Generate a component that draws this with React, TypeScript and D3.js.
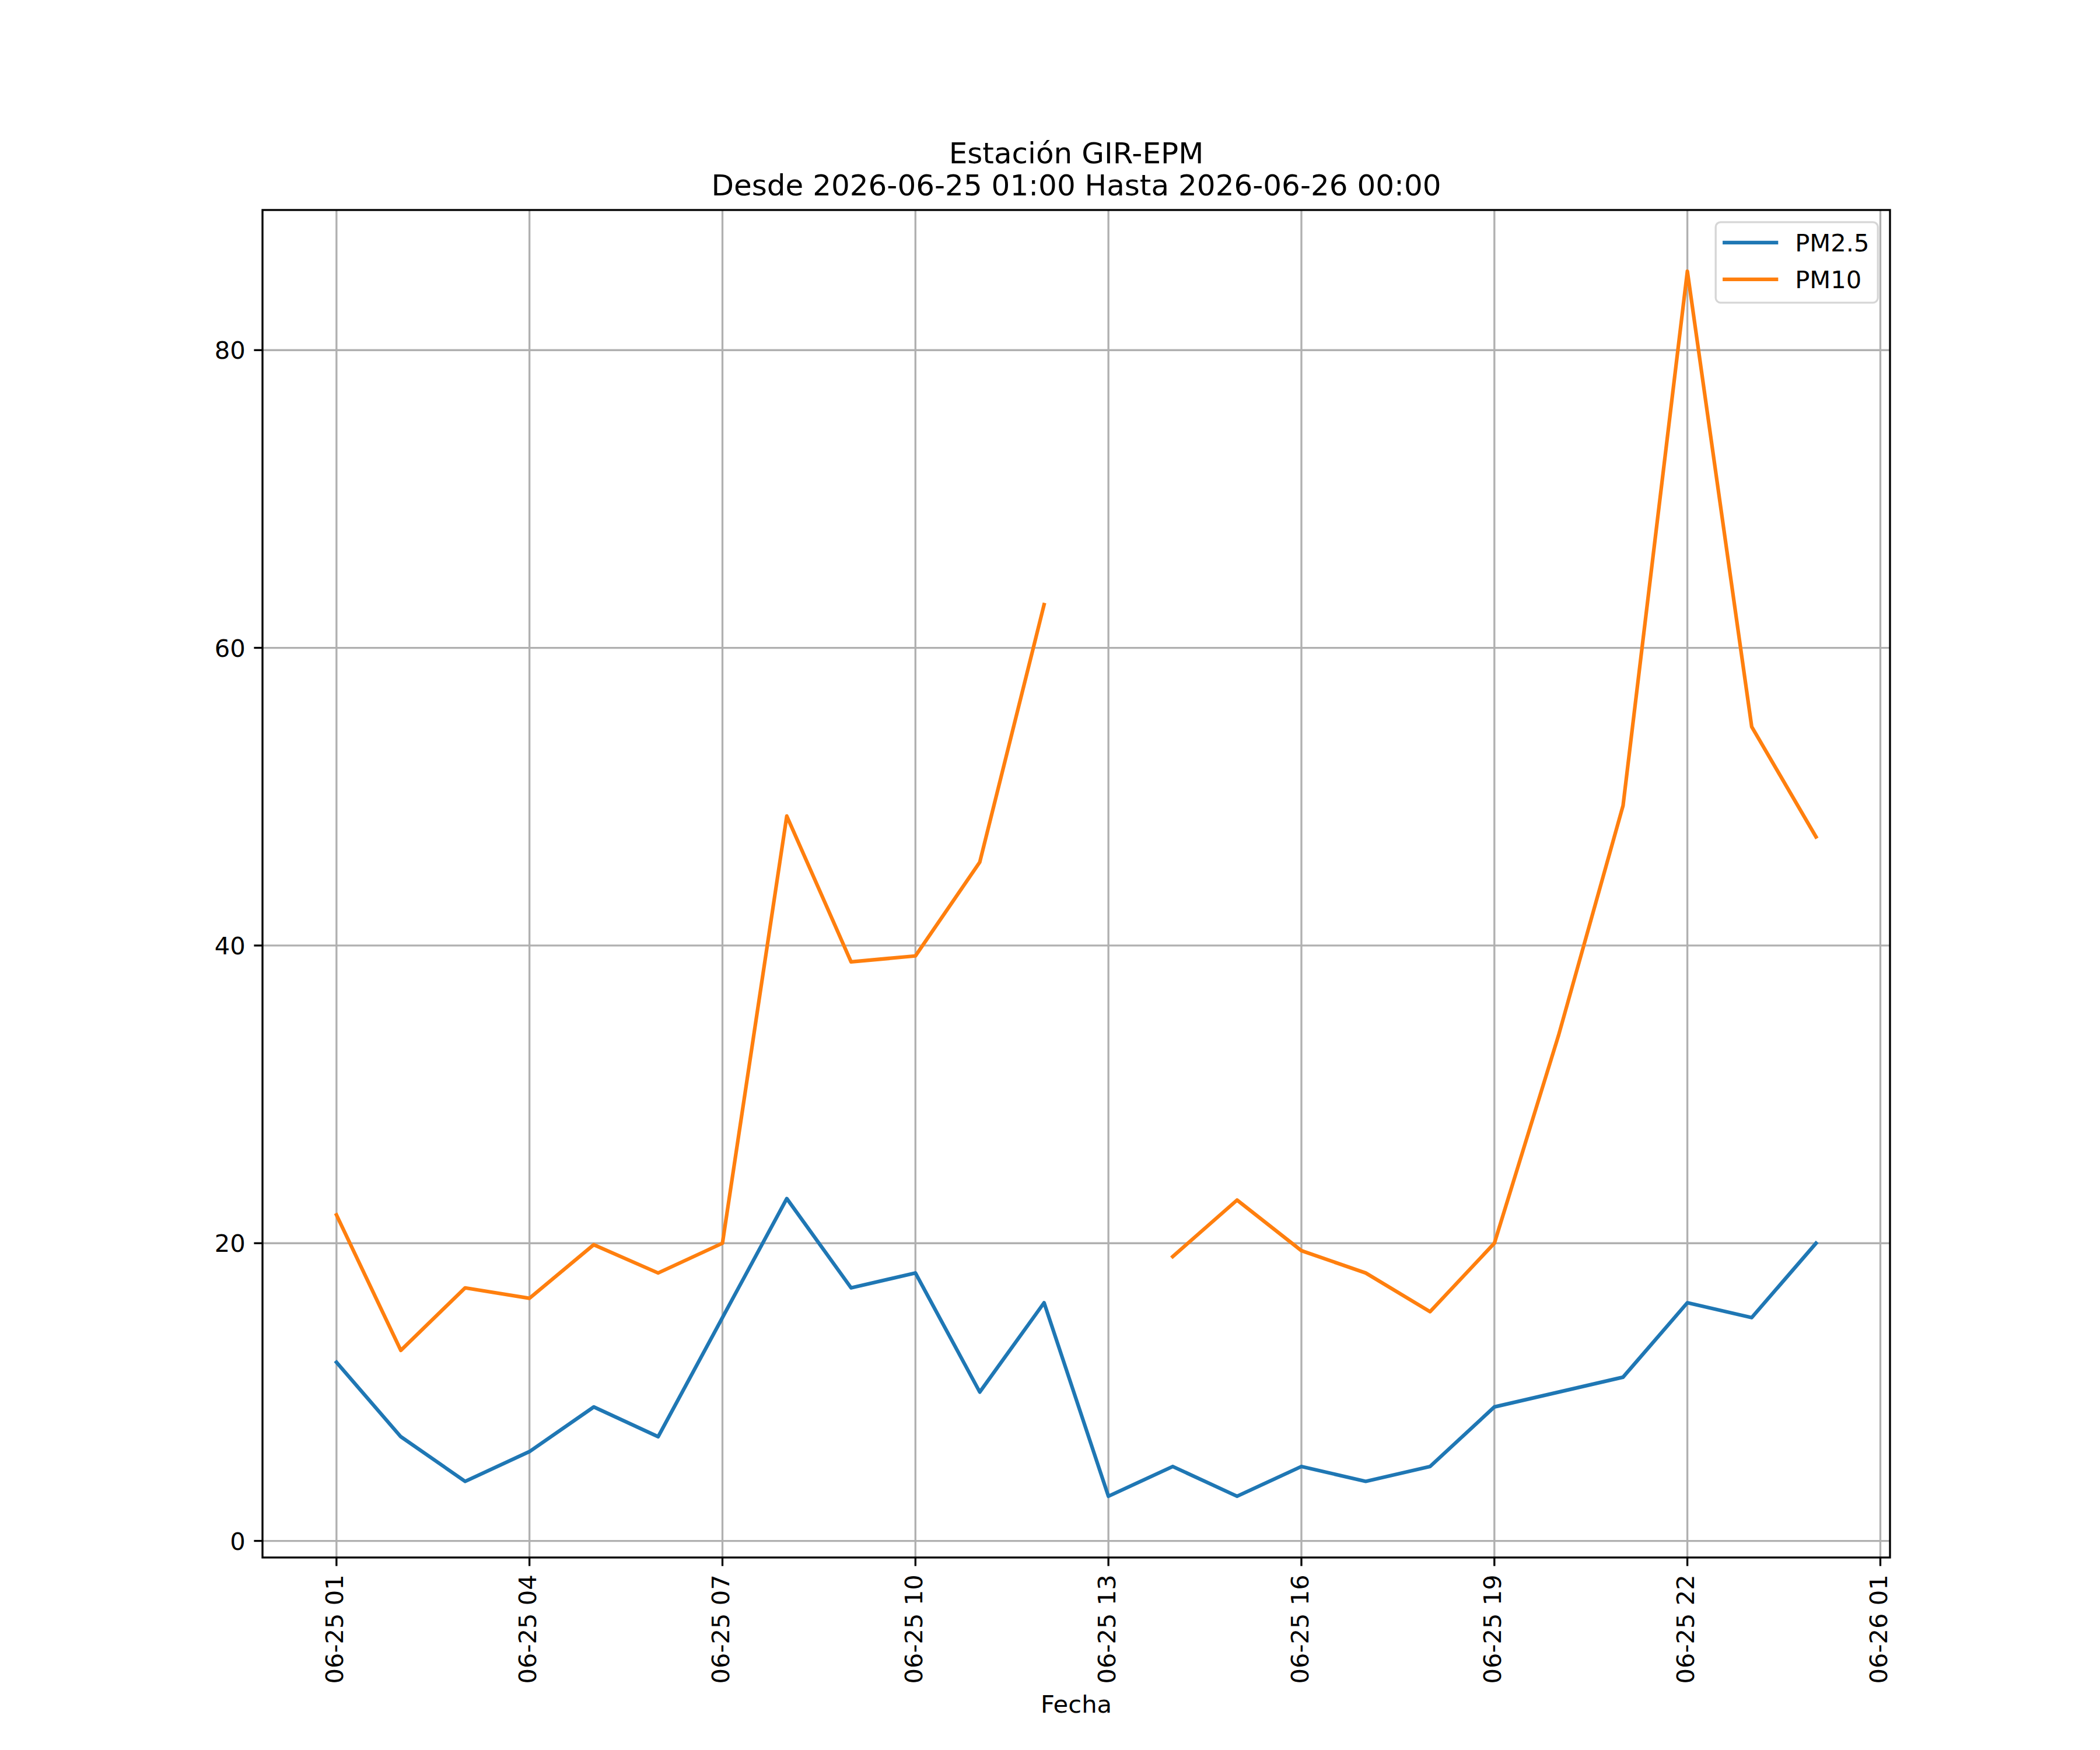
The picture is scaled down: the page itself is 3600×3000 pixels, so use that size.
import React from 'react';
import * as d3 from 'd3';

// Hourly readings, station GIR-EPM
const times = [
  '2026-06-25T01:00:00Z', '2026-06-25T02:00:00Z', '2026-06-25T03:00:00Z', '2026-06-25T04:00:00Z',
  '2026-06-25T05:00:00Z', '2026-06-25T06:00:00Z', '2026-06-25T07:00:00Z', '2026-06-25T08:00:00Z',
  '2026-06-25T09:00:00Z', '2026-06-25T10:00:00Z', '2026-06-25T11:00:00Z', '2026-06-25T12:00:00Z',
  '2026-06-25T13:00:00Z', '2026-06-25T14:00:00Z', '2026-06-25T15:00:00Z', '2026-06-25T16:00:00Z',
  '2026-06-25T17:00:00Z', '2026-06-25T18:00:00Z', '2026-06-25T19:00:00Z', '2026-06-25T20:00:00Z',
  '2026-06-25T21:00:00Z', '2026-06-25T22:00:00Z', '2026-06-25T23:00:00Z', '2026-06-26T00:00:00Z',
];
const pm25 = [12, 7, 4, 6, 9, 7, 15, 23, 17, 18, 10, 16, 3, 5, 3, 5, 4, 5, 9, 10, 11, 16, 15, 20];
const pm10 = [21.9, 12.8, 17.0, 16.3, 19.9, 18.0, 20.0, 48.7, 38.9, 39.3, 45.6, 62.9, null, 19.1, 22.9, 19.5, 18.0, 15.4, 20.0, 34.0, 49.4, 85.3, 54.7, 47.3];
const yTicks = [0, 20, 40, 60, 80];
const seriesNames = ['PM2.5', 'PM10'];
const seriesColors = ['#1f77b4', '#ff7f0e'];
const titleLines = ['Estación GIR-EPM', 'Desde 2026-06-25 01:00 Hasta 2026-06-26 00:00'];

const W = 3600;
const H = 3000;
const margin = { left: 450, right: 360, top: 360, bottom: 330 };
const FS = 41.67;
const LW = 3.33;
const TICK = 14.6;
const font = '"DejaVu Sans", sans-serif';

const App: React.FC = () => {
  const dates = times.map(t => new Date(t));
  const t0 = +dates[0];
  const t1 = +dates[dates.length - 1];
  const xPad = (t1 - t0) * 0.05;
  const x = d3.scaleUtc()
    .domain([new Date(t0 - xPad), new Date(t1 + xPad)])
    .range([margin.left, W - margin.right]);

  const all = [...pm25, ...pm10.filter(v => v != null)] as number[];
  const ymin = d3.min(all)!;
  const ymax = d3.max(all)!;
  const yPad = (ymax - ymin) * 0.05;
  const y = d3.scaleLinear()
    .domain([ymin - yPad, ymax + yPad])
    .range([H - margin.bottom, margin.top]);

  const xTicks = d3.utcHour.range(dates[0], new Date(t1 + 2 * 3600 * 1000), 3);
  const fmt = d3.utcFormat('%m-%d %H');

  const line = d3.line<number | null>()
    .defined(d => d != null)
    .x((_, i) => x(dates[i]))
    .y(d => y(d as number));

  const left = margin.left;
  const right = W - margin.right;
  const top = margin.top;
  const bottom = H - margin.bottom;
  const cx = (left + right) / 2;

  const lgX = right - 20.8;
  const lgY = top + 20.8;

  return (
    <svg width={W} height={H} style={{ position: 'absolute', left: 0, top: 0, background: '#fff' }} fontFamily={font}>
      <rect x={0} y={0} width={W} height={H} fill="#fff" />

      {/* grid */}
      <g stroke="#b0b0b0" strokeWidth={LW}>
        {xTicks.map((t, i) => (
          <line key={'gx' + i} x1={x(t)} x2={x(t)} y1={top} y2={bottom} />
        ))}
        {yTicks.map((v, i) => (
          <line key={'gy' + i} x1={left} x2={right} y1={y(v)} y2={y(v)} />
        ))}
      </g>

      {/* series */}
      {[pm25, pm10].map((s, i) => (
        <path key={'s' + i} d={line(s as (number | null)[]) || ''} fill="none"
          stroke={seriesColors[i]} strokeWidth={6.25} strokeLinejoin="round" strokeLinecap="square" />
      ))}

      {/* spines */}
      <rect x={left} y={top} width={right - left} height={bottom - top} fill="none" stroke="#000" strokeWidth={LW} />

      {/* x ticks */}
      {xTicks.map((t, i) => (
        <g key={'xt' + i}>
          <line x1={x(t)} x2={x(t)} y1={bottom} y2={bottom + TICK} stroke="#000" strokeWidth={LW} />
          <text transform={`translate(${x(t)},${bottom + TICK + 14.6}) rotate(-90)`} textAnchor="end"
            dy="0.28em" fontSize={FS} fill="#000">{fmt(t)}</text>
        </g>
      ))}

      {/* y ticks */}
      {yTicks.map((v, i) => (
        <g key={'yt' + i}>
          <line x1={left - TICK} x2={left} y1={y(v)} y2={y(v)} stroke="#000" strokeWidth={LW} />
          <text x={left - TICK - 14.6} y={y(v)} dy="0.36em" textAnchor="end" fontSize={FS} fill="#000">{v}</text>
        </g>
      ))}

      {/* title */}
      <text x={cx} y={280} textAnchor="middle" fontSize={50} fill="#000">{titleLines[0]}</text>
      <text x={cx} y={335} textAnchor="middle" fontSize={50} fill="#000">{titleLines[1]}</text>

      {/* x label */}
      <text x={cx} y={2936} textAnchor="middle" fontSize={FS} fill="#000">Fecha</text>

      {/* legend */}
      <g>
        <rect x={lgX - 278} y={lgY} width={278} height={138} rx={8.3} ry={8.3}
          fill="#fff" fillOpacity={0.8} stroke="#cccccc" strokeOpacity={0.8} strokeWidth={LW} />
        {seriesNames.map((n, i) => (
          <g key={'lg' + i}>
            <line x1={lgX - 263} x2={lgX - 174} y1={lgY + 35 + i * 63} y2={lgY + 35 + i * 63}
              stroke={seriesColors[i]} strokeWidth={6.25} strokeLinecap="square" />
            <text x={lgX - 142} y={lgY + 35 + i * 63} dy="0.36em" fontSize={FS} fill="#000">{n}</text>
          </g>
        ))}
      </g>
    </svg>
  );
};

export default App;
